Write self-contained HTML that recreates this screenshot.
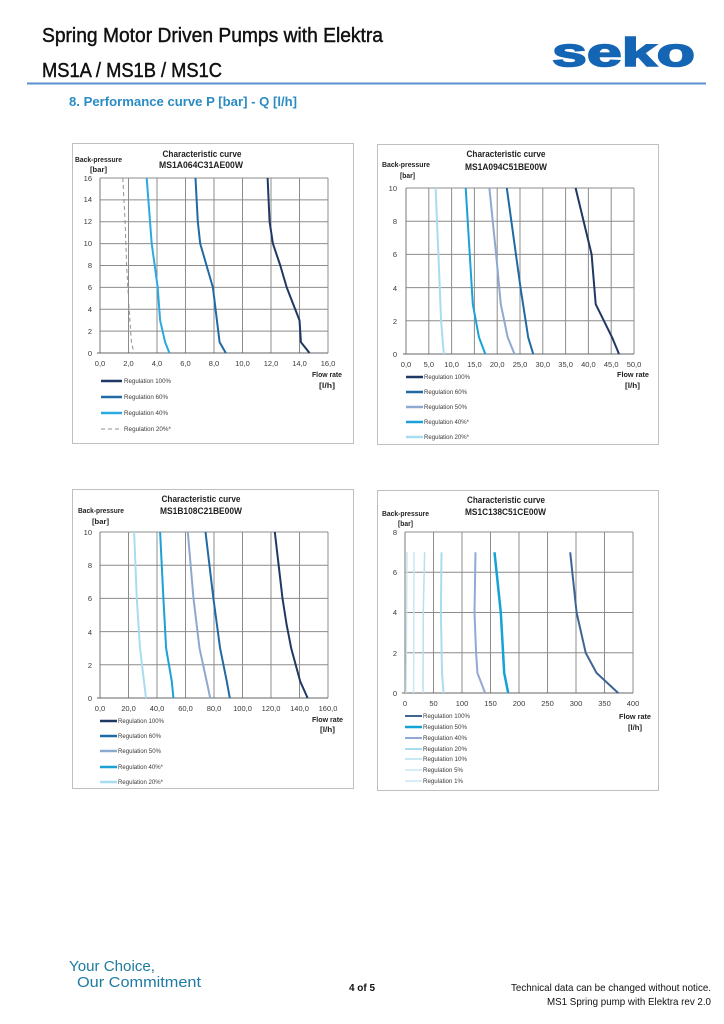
<!DOCTYPE html>
<html><head><meta charset="utf-8">
<style>
html,body{margin:0;padding:0;background:#fff;}
svg{display:block;}
text{font-family:"Liberation Sans",Arial,sans-serif;}
.tk{font-size:7.5px;fill:#3a3a3a;}
.lg{font-size:6px;fill:#3a3a3a;}
.ti{font-size:9px;font-weight:bold;fill:#222;}
.ax{font-size:7.5px;font-weight:bold;fill:#222;}
.grid line{stroke:#8c8c8c;stroke-width:1;}
.frame{fill:#fff;stroke:#bfbfbf;stroke-width:1;}
</style></head>
<body>
<svg width="724" height="1024" viewBox="0 0 724 1024" xmlns="http://www.w3.org/2000/svg">
<rect width="724" height="1024" fill="#fff"/>

<!-- HEADER -->
<text x="42" y="42" font-size="20" textLength="341" lengthAdjust="spacingAndGlyphs" fill="#111" stroke="#111" stroke-width="0.45">Spring Motor Driven Pumps with Elektra</text>
<text x="42" y="77" font-size="20" textLength="180" lengthAdjust="spacingAndGlyphs" fill="#111" stroke="#111" stroke-width="0.45">MS1A / MS1B / MS1C</text>
<line x1="27" y1="83.5" x2="706" y2="83.5" stroke="#5b8fd0" stroke-width="2"/>
<text x="69" y="106" font-size="13" font-weight="bold" fill="#2b8cc4" textLength="228" lengthAdjust="spacingAndGlyphs">8.  Performance curve P [bar] - Q [l/h]</text>
<text x="552" y="66" font-size="40" font-weight="bold" fill="#1565b5" stroke="#1565b5" stroke-width="1.6" textLength="143" lengthAdjust="spacingAndGlyphs">seko</text>

<!-- CHART 1 -->
<rect class="frame" x="72.5" y="143.5" width="281" height="300"/>
<g class="grid">
<line x1="128.5" y1="178" x2="128.5" y2="353"/><line x1="157" y1="178" x2="157" y2="353"/><line x1="185.5" y1="178" x2="185.5" y2="353"/><line x1="214" y1="178" x2="214" y2="353"/><line x1="242.5" y1="178" x2="242.5" y2="353"/><line x1="271" y1="178" x2="271" y2="353"/><line x1="299.5" y1="178" x2="299.5" y2="353"/><line x1="328" y1="178" x2="328" y2="353"/>
<line x1="100" y1="178" x2="328" y2="178"/><line x1="100" y1="199.9" x2="328" y2="199.9"/><line x1="100" y1="221.8" x2="328" y2="221.8"/><line x1="100" y1="243.6" x2="328" y2="243.6"/><line x1="100" y1="265.5" x2="328" y2="265.5"/><line x1="100" y1="287.4" x2="328" y2="287.4"/><line x1="100" y1="309.3" x2="328" y2="309.3"/><line x1="100" y1="331.1" x2="328" y2="331.1"/>
</g>
<line x1="100" y1="178" x2="100" y2="353" stroke="#7a7a7a"/>
<line x1="97" y1="353" x2="328" y2="353" stroke="#666"/>
<text class="ti" x="202" y="157" text-anchor="middle" textLength="79" lengthAdjust="spacingAndGlyphs">Characteristic curve</text>
<text class="ti" x="201" y="168" text-anchor="middle" textLength="84" lengthAdjust="spacingAndGlyphs">MS1A064C31AE00W</text>
<text class="ax" x="75" y="162" textLength="47" lengthAdjust="spacingAndGlyphs">Back-pressure</text>
<text class="ax" x="90" y="172" textLength="17" lengthAdjust="spacingAndGlyphs">[bar]</text>
<g class="tk" text-anchor="end">
<text x="92" y="356">0</text><text x="92" y="334">2</text><text x="92" y="312">4</text><text x="92" y="290">6</text><text x="92" y="268">8</text><text x="92" y="246">10</text><text x="92" y="224">12</text><text x="92" y="202">14</text><text x="92" y="181">16</text>
</g>
<g class="tk" text-anchor="middle">
<text x="100" y="366">0,0</text><text x="128.5" y="366">2,0</text><text x="157" y="366">4,0</text><text x="185.5" y="366">6,0</text><text x="214" y="366">8,0</text><text x="242.5" y="366">10,0</text><text x="271" y="366">12,0</text><text x="299.5" y="366">14,0</text><text x="328" y="366">16,0</text>
</g>
<text class="ax" x="312" y="377" textLength="30" lengthAdjust="spacingAndGlyphs">Flow rate</text>
<text class="ax" x="319" y="388" textLength="16" lengthAdjust="spacingAndGlyphs">[l/h]</text>
<g fill="none" stroke-linejoin="round">
<polyline stroke="#909090" stroke-width="1" stroke-dasharray="4,3" points="122.8,178 125.1,221.7 126.6,265.5 129.1,309.2 131.4,342.1 134,353"/>
<polyline stroke="#2aaae0" stroke-width="2" points="146.7,178 151.7,243.6 157.7,287.4 160.1,320.2 165.1,342.1 169.4,353"/>
<polyline stroke="#1f6aa5" stroke-width="2" points="195.5,178 197.8,221.7 200.2,243.6 212.9,287.4 216.9,320.2 219.6,342.1 225.8,353"/>
<polyline stroke="#1f3864" stroke-width="2" points="267.6,178 269.6,221.7 272.9,243.6 280.3,265.5 286.7,287.4 295.2,309.2 299.5,320.2 300.9,342.1 309.5,353"/>
</g>
<line x1="101" y1="381" x2="122" y2="381" stroke="#1f3864" stroke-width="2.5"/>
<line x1="101" y1="397" x2="122" y2="397" stroke="#1f6aa5" stroke-width="2.5"/>
<line x1="101" y1="413" x2="122" y2="413" stroke="#2aaae0" stroke-width="2.5"/>
<line x1="101" y1="429" x2="122" y2="429" stroke="#909090" stroke-width="1" stroke-dasharray="4,3"/>
<g class="lg">
<text x="124" y="383" textLength="47" lengthAdjust="spacingAndGlyphs">Regulation 100%</text>
<text x="124" y="399" textLength="44" lengthAdjust="spacingAndGlyphs">Regulation 60%</text>
<text x="124" y="415" textLength="44" lengthAdjust="spacingAndGlyphs">Regulation 40%</text>
<text x="124" y="431" textLength="47" lengthAdjust="spacingAndGlyphs">Regulation 20%*</text>
</g>

<!-- CHART 2 -->
<rect class="frame" x="377.5" y="144.5" width="281" height="300"/>
<g class="grid">
<line x1="428.8" y1="188" x2="428.8" y2="354"/><line x1="451.6" y1="188" x2="451.6" y2="354"/><line x1="474.4" y1="188" x2="474.4" y2="354"/><line x1="497.2" y1="188" x2="497.2" y2="354"/><line x1="520" y1="188" x2="520" y2="354"/><line x1="542.8" y1="188" x2="542.8" y2="354"/><line x1="565.6" y1="188" x2="565.6" y2="354"/><line x1="588.4" y1="188" x2="588.4" y2="354"/><line x1="611.2" y1="188" x2="611.2" y2="354"/><line x1="634" y1="188" x2="634" y2="354"/>
<line x1="406" y1="188" x2="634" y2="188"/><line x1="406" y1="221.2" x2="634" y2="221.2"/><line x1="406" y1="254.4" x2="634" y2="254.4"/><line x1="406" y1="287.6" x2="634" y2="287.6"/><line x1="406" y1="320.8" x2="634" y2="320.8"/>
</g>
<line x1="406" y1="188" x2="406" y2="354" stroke="#7a7a7a"/>
<line x1="403" y1="354" x2="634" y2="354" stroke="#666"/>
<text class="ti" x="506" y="157" text-anchor="middle" textLength="79" lengthAdjust="spacingAndGlyphs">Characteristic curve</text>
<text class="ti" x="506" y="170" text-anchor="middle" textLength="82" lengthAdjust="spacingAndGlyphs">MS1A094C51BE00W</text>
<text class="ax" x="382" y="167" textLength="48" lengthAdjust="spacingAndGlyphs">Back-pressure</text>
<text class="ax" x="400" y="178" textLength="15" lengthAdjust="spacingAndGlyphs">[bar]</text>
<g class="tk" text-anchor="end">
<text x="397" y="357">0</text><text x="397" y="324">2</text><text x="397" y="291">4</text><text x="397" y="257">6</text><text x="397" y="224">8</text><text x="397" y="191">10</text>
</g>
<g class="tk" text-anchor="middle">
<text x="406" y="367">0,0</text><text x="428.8" y="367">5,0</text><text x="451.6" y="367">10,0</text><text x="474.4" y="367">15,0</text><text x="497.2" y="367">20,0</text><text x="520" y="367">25,0</text><text x="542.8" y="367">30,0</text><text x="565.6" y="367">35,0</text><text x="588.4" y="367">40,0</text><text x="611.2" y="367">45,0</text><text x="634" y="367">50,0</text>
</g>
<text class="ax" x="617" y="377" textLength="32" lengthAdjust="spacingAndGlyphs">Flow rate</text>
<text class="ax" x="625" y="388" textLength="15" lengthAdjust="spacingAndGlyphs">[l/h]</text>
<g fill="none" stroke-linejoin="round">
<polyline stroke="#a8dcf0" stroke-width="2" points="435.6,188 438.4,254.4 441.1,320.8 443.8,354"/>
<polyline stroke="#1ba1d6" stroke-width="2" points="465.7,188 472.8,304.2 479,337.4 485.3,354"/>
<polyline stroke="#8ea9cf" stroke-width="2" points="489.4,188 496.1,254.4 500.8,304.2 507.7,337.4 514.5,354"/>
<polyline stroke="#1f6aa5" stroke-width="2" points="506.8,188 520.5,287.6 528.2,337.4 533.2,354"/>
<polyline stroke="#1f3864" stroke-width="2" points="575.6,188 591.6,254.4 595.7,304.2 612.1,337.4 619,354"/>
</g>
<line x1="406" y1="377" x2="423" y2="377" stroke="#1f3864" stroke-width="2.5"/>
<line x1="406" y1="392" x2="423" y2="392" stroke="#1f6aa5" stroke-width="2.5"/>
<line x1="406" y1="407" x2="423" y2="407" stroke="#8ea9cf" stroke-width="2.5"/>
<line x1="406" y1="422" x2="423" y2="422" stroke="#1ba1d6" stroke-width="2.5"/>
<line x1="406" y1="437" x2="423" y2="437" stroke="#a8dcf0" stroke-width="2.5"/>
<g class="lg">
<text x="424" y="379" textLength="46" lengthAdjust="spacingAndGlyphs">Regulation 100%</text>
<text x="424" y="394" textLength="43" lengthAdjust="spacingAndGlyphs">Regulation 60%</text>
<text x="424" y="409" textLength="43" lengthAdjust="spacingAndGlyphs">Regulation 50%</text>
<text x="424" y="424" textLength="45" lengthAdjust="spacingAndGlyphs">Regulation 40%*</text>
<text x="424" y="439" textLength="45" lengthAdjust="spacingAndGlyphs">Regulation 20%*</text>
</g>

<!-- CHART 3 -->
<rect class="frame" x="72.5" y="489.5" width="281" height="299"/>
<g class="grid">
<line x1="128.5" y1="532" x2="128.5" y2="698"/><line x1="157" y1="532" x2="157" y2="698"/><line x1="185.5" y1="532" x2="185.5" y2="698"/><line x1="214" y1="532" x2="214" y2="698"/><line x1="242.5" y1="532" x2="242.5" y2="698"/><line x1="271" y1="532" x2="271" y2="698"/><line x1="299.5" y1="532" x2="299.5" y2="698"/><line x1="328" y1="532" x2="328" y2="698"/>
<line x1="100" y1="532" x2="328" y2="532"/><line x1="100" y1="565.2" x2="328" y2="565.2"/><line x1="100" y1="598.4" x2="328" y2="598.4"/><line x1="100" y1="631.6" x2="328" y2="631.6"/><line x1="100" y1="664.8" x2="328" y2="664.8"/>
</g>
<line x1="100" y1="532" x2="100" y2="698" stroke="#7a7a7a"/>
<line x1="97" y1="698" x2="328" y2="698" stroke="#666"/>
<text class="ti" x="201" y="502" text-anchor="middle" textLength="79" lengthAdjust="spacingAndGlyphs">Characteristic curve</text>
<text class="ti" x="201" y="514" text-anchor="middle" textLength="82" lengthAdjust="spacingAndGlyphs">MS1B108C21BE00W</text>
<text class="ax" x="78" y="513" textLength="46" lengthAdjust="spacingAndGlyphs">Back-pressure</text>
<text class="ax" x="92" y="524" textLength="17" lengthAdjust="spacingAndGlyphs">[bar]</text>
<g class="tk" text-anchor="end">
<text x="92" y="701">0</text><text x="92" y="668">2</text><text x="92" y="635">4</text><text x="92" y="601">6</text><text x="92" y="568">8</text><text x="92" y="535">10</text>
</g>
<g class="tk" text-anchor="middle">
<text x="100" y="711">0,0</text><text x="128.5" y="711">20,0</text><text x="157" y="711">40,0</text><text x="185.5" y="711">60,0</text><text x="214" y="711">80,0</text><text x="242.5" y="711">100,0</text><text x="271" y="711">120,0</text><text x="299.5" y="711">140,0</text><text x="328" y="711">160,0</text>
</g>
<text class="ax" x="312" y="722" textLength="31" lengthAdjust="spacingAndGlyphs">Flow rate</text>
<text class="ax" x="320" y="732" textLength="15" lengthAdjust="spacingAndGlyphs">[l/h]</text>
<g fill="none" stroke-linejoin="round">
<polyline stroke="#a8dcf0" stroke-width="2" points="134.1,532 136.8,598.4 140,648.2 146,698"/>
<polyline stroke="#1ba1d6" stroke-width="2" points="160.1,532 163.4,598.4 166.1,648.2 171.8,681.4 173.4,698"/>
<polyline stroke="#8ea9cf" stroke-width="2" points="187.8,532 193.5,598.4 199.5,648.2 206.7,681.4 210.2,698"/>
<polyline stroke="#1f6aa5" stroke-width="2" points="205.5,532 213.4,598.4 220.1,648.2 226.8,681.4 229.8,698"/>
<polyline stroke="#1f3864" stroke-width="2" points="274.8,532 282.5,598.4 286.5,624 291.2,648.2 300.2,681.4 307.6,698"/>
</g>
<line x1="100" y1="721" x2="117" y2="721" stroke="#1f3864" stroke-width="2.5"/>
<line x1="100" y1="736" x2="117" y2="736" stroke="#1f6aa5" stroke-width="2.5"/>
<line x1="100" y1="751" x2="117" y2="751" stroke="#8ea9cf" stroke-width="2.5"/>
<line x1="100" y1="767" x2="117" y2="767" stroke="#1ba1d6" stroke-width="2.5"/>
<line x1="100" y1="782" x2="117" y2="782" stroke="#a8dcf0" stroke-width="2.5"/>
<g class="lg">
<text x="118" y="723" textLength="46" lengthAdjust="spacingAndGlyphs">Regulation 100%</text>
<text x="118" y="738" textLength="43" lengthAdjust="spacingAndGlyphs">Regulation 60%</text>
<text x="118" y="753" textLength="43" lengthAdjust="spacingAndGlyphs">Regulation 50%</text>
<text x="118" y="769" textLength="45" lengthAdjust="spacingAndGlyphs">Regulation 40%*</text>
<text x="118" y="784" textLength="45" lengthAdjust="spacingAndGlyphs">Regulation 20%*</text>
</g>

<!-- CHART 4 -->
<rect class="frame" x="377.5" y="490.5" width="281" height="300"/>
<g class="grid">
<line x1="433.5" y1="532" x2="433.5" y2="693"/><line x1="462" y1="532" x2="462" y2="693"/><line x1="490.5" y1="532" x2="490.5" y2="693"/><line x1="519" y1="532" x2="519" y2="693"/><line x1="547.5" y1="532" x2="547.5" y2="693"/><line x1="576" y1="532" x2="576" y2="693"/><line x1="604.5" y1="532" x2="604.5" y2="693"/><line x1="633" y1="532" x2="633" y2="693"/>
<line x1="405" y1="532" x2="633" y2="532"/><line x1="405" y1="572.25" x2="633" y2="572.25"/><line x1="405" y1="612.5" x2="633" y2="612.5"/><line x1="405" y1="652.75" x2="633" y2="652.75"/>
</g>
<line x1="405" y1="532" x2="405" y2="693" stroke="#7a7a7a"/>
<line x1="402" y1="693" x2="633" y2="693" stroke="#666"/>
<text class="ti" x="506" y="503" text-anchor="middle" textLength="78" lengthAdjust="spacingAndGlyphs">Characteristic curve</text>
<text class="ti" x="505.5" y="515" text-anchor="middle" textLength="81" lengthAdjust="spacingAndGlyphs">MS1C138C51CE00W</text>
<text class="ax" x="382" y="516" textLength="47" lengthAdjust="spacingAndGlyphs">Back-pressure</text>
<text class="ax" x="398" y="526" textLength="15" lengthAdjust="spacingAndGlyphs">[bar]</text>
<g class="tk" text-anchor="end">
<text x="397" y="696">0</text><text x="397" y="656">2</text><text x="397" y="615">4</text><text x="397" y="575">6</text><text x="397" y="535">8</text>
</g>
<g class="tk" text-anchor="middle">
<text x="405" y="706">0</text><text x="433.5" y="706">50</text><text x="462" y="706">100</text><text x="490.5" y="706">150</text><text x="519" y="706">200</text><text x="547.5" y="706">250</text><text x="576" y="706">300</text><text x="604.5" y="706">350</text><text x="633" y="706">400</text>
</g>
<text class="ax" x="619" y="719" textLength="32" lengthAdjust="spacingAndGlyphs">Flow rate</text>
<text class="ax" x="628" y="730" textLength="14" lengthAdjust="spacingAndGlyphs">[l/h]</text>
<g fill="none" stroke-linejoin="round">
<polyline stroke="#c6e8f5" stroke-width="1.5" points="407,552.3 406,693"/>
<polyline stroke="#c6e8f5" stroke-width="1.5" points="414,552.3 413.6,693"/>
<polyline stroke="#b5e0f2" stroke-width="1.5" points="424.6,552.3 423.3,612 423,693"/>
<polyline stroke="#a8dcf0" stroke-width="2" points="441.5,552.3 440.9,612.6 442,672.9 443.5,693"/>
<polyline stroke="#8faad6" stroke-width="2" points="475.5,552.3 474.5,612.6 476.1,652.8 477.4,672.9 485.1,693"/>
<polyline stroke="#13a3d4" stroke-width="2.5" points="494.5,552.3 500.8,612.6 504.2,672.9 508.2,693"/>
<polyline stroke="#3e6494" stroke-width="2" points="570.2,552.3 576.6,612.6 585.7,652.8 596.5,672.9 618.2,693"/>
</g>
<line x1="405" y1="716" x2="422" y2="716" stroke="#3e6494" stroke-width="2"/>
<line x1="405" y1="727" x2="422" y2="727" stroke="#13a3d4" stroke-width="2.5"/>
<line x1="405" y1="738" x2="422" y2="738" stroke="#8faad6" stroke-width="2"/>
<line x1="405" y1="749" x2="422" y2="749" stroke="#a8dcf0" stroke-width="2"/>
<line x1="405" y1="759" x2="422" y2="759" stroke="#b5e0f2" stroke-width="1.5"/>
<line x1="405" y1="770" x2="422" y2="770" stroke="#c6e8f5" stroke-width="1.5"/>
<line x1="405" y1="781" x2="422" y2="781" stroke="#c6e8f5" stroke-width="1.5"/>
<g class="lg">
<text x="423" y="718" textLength="47" lengthAdjust="spacingAndGlyphs">Regulation 100%</text>
<text x="423" y="729" textLength="44" lengthAdjust="spacingAndGlyphs">Regulation 50%</text>
<text x="423" y="740" textLength="44" lengthAdjust="spacingAndGlyphs">Regulation 40%</text>
<text x="423" y="751" textLength="44" lengthAdjust="spacingAndGlyphs">Regulation 20%</text>
<text x="423" y="761" textLength="44" lengthAdjust="spacingAndGlyphs">Regulation 10%</text>
<text x="423" y="772" textLength="40" lengthAdjust="spacingAndGlyphs">Regulation 5%</text>
<text x="423" y="783" textLength="40" lengthAdjust="spacingAndGlyphs">Regulation 1%</text>
</g>

<!-- FOOTER -->
<text x="69" y="971" font-size="15" fill="#1e7aa0" textLength="86" lengthAdjust="spacingAndGlyphs">Your Choice,</text>
<text x="77" y="987" font-size="15" fill="#1e7aa0" textLength="124" lengthAdjust="spacingAndGlyphs">Our Commitment</text>
<text x="349" y="991" font-size="10" font-weight="bold" fill="#111" textLength="26" lengthAdjust="spacingAndGlyphs">4 of 5</text>
<text x="511" y="991" font-size="10.5" fill="#111" textLength="200" lengthAdjust="spacingAndGlyphs">Technical data can be changed without notice.</text>
<text x="547" y="1005" font-size="10.5" fill="#111" textLength="164" lengthAdjust="spacingAndGlyphs">MS1 Spring pump with Elektra rev 2.0</text>
</svg>
</body></html>
